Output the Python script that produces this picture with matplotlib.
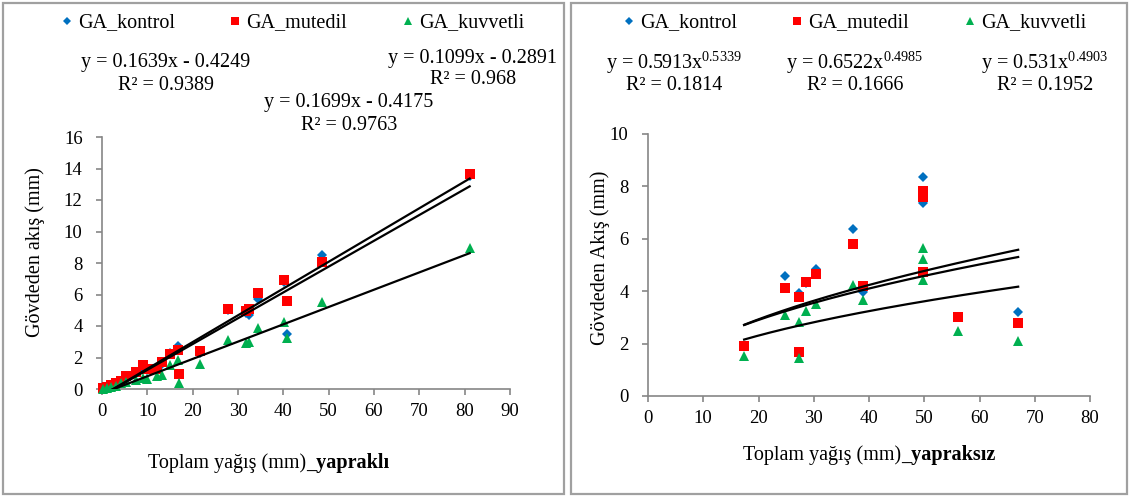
import numpy as np
import matplotlib
matplotlib.use('Agg')
import matplotlib.pyplot as plt
from matplotlib.patches import Rectangle
from matplotlib.lines import Line2D
from matplotlib.text import Annotation

plt.rcParams['font.family'] = 'Liberation Serif'
plt.rcParams['mathtext.default'] = 'regular'

# Yapraklı dönem: toplam yağış (mm) ve gövdeden akış (mm)
yagis_yaprakli = [0.3, 1.2, 2.0, 3.0, 4.2, 5.2, 7.4, 9.0, 10.0, 12.2, 13.3, 15.0,
                  16.8, 17.0, 21.6, 27.9, 31.8, 32.4, 34.5, 40.2, 40.9, 48.6, 81.1]
kontrol_yaprakli = [0.05, 0.1, 0.2, 0.3, 0.45, 0.7, 1.0, 1.3, 1.2, 1.2, 1.6, 2.3,
                    2.75, 0.9, 2.3, 5.0, 4.85, 4.7, 5.7, 6.8, 3.5, 8.5, 13.5]
mutedil_yaprakli = [0.05, 0.15, 0.25, 0.35, 0.5, 0.8, 1.1, 1.5, 1.3, 1.25, 1.7, 2.25,
                    2.5, 0.95, 2.4, 5.1, 4.95, 5.05, 6.1, 6.95, 5.6, 8.05, 13.65]
kuvvetli_yaprakli = [0.0, 0.05, 0.1, 0.2, 0.35, 0.45, 0.6, 0.7, 0.65, 0.8, 0.9, 1.5,
                     1.85, 0.4, 1.6, 3.1, 2.95, 3.0, 3.9, 4.25, 3.25, 5.55, 8.95]

# Yapraksız dönem
yagis_yapraksiz = [17.4, 24.8, 27.4, 27.4, 28.6, 30.4, 37.1, 38.9, 49.7, 49.85, 49.7, 56.1, 67.0]
kontrol_yapraksiz = [1.9, 4.59, 3.95, 1.65, 4.3, 4.86, 6.36, 3.97, 8.37, 7.38, 4.7, 3.0, 3.22]
mutedil_yapraksiz = [1.89, 4.11, 3.77, 1.67, 4.34, 4.66, 5.8, 4.18, 7.82, 7.58, 4.75, 3.0, 2.79]
kuvvetli_yapraksiz = [1.53, 3.1, 2.84, 1.44, 3.25, 3.5, 4.25, 3.66, 5.65, 5.22, 4.43, 2.48, 2.11]

# trend denklemleri (Excel eğilim çizgisi katsayıları)
lineer_katsayi = {'kontrol': (0.1639, -0.4249, 0.9389),
                  'mutedil': (0.1699, -0.4175, 0.9763),
                  'kuvvetli': (0.1099, -0.2891, 0.968)}
us_katsayi = {'kontrol': (0.5913, 0.5339, 0.1814),
              'mutedil': (0.6522, 0.4985, 0.1666),
              'kuvvetli': (0.531, 0.4903, 0.1952)}

seriler = ['kontrol', 'mutedil', 'kuvvetli']
etiketler = ['GA_kontrol', 'GA_mutedil', 'GA_kuvvetli']
renkler = {'kontrol': '#0070C0', 'mutedil': '#FF0000', 'kuvvetli': '#00B050'}
isaretler = {'kontrol': ('D', 5.2), 'mutedil': ('s', 6.8), 'kuvvetli': ('^', 7.6)}

W, H = 1129, 496
GRI = '#868686'
BUYUK = 14.5
KUCUK = 13.5

fig = plt.figure(figsize=(W / 100, H / 100), dpi=100)


def kutu(x0, y0, x1, y1):
    # piksel kutusu (sol üst orijinli) -> figür oranı
    return [x0 / W, 1 - y1 / H, (x1 - x0) / W, (y1 - y0) / H]


def fx(px):
    return px / W


def fy(py):
    return 1 - py / H


# panel çerçeveleri
for x0, x1 in [(3, 564), (571, 1127)]:
    fig.patches.append(Rectangle((fx(x0), fy(494)), (x1 - x0) / W, (494 - 3) / H,
                                 transform=fig.transFigure, fill=False,
                                 edgecolor='#a0a0a0', linewidth=1.6))


def eksen_stili(ax, xmax, ymax, xstep, ystep):
    ax.set_xlim(0, xmax)
    ax.set_ylim(0, ymax)
    ax.set_xticks(np.arange(0, xmax + 1, xstep))
    ax.set_yticks(np.arange(0, ymax + 1, ystep))
    for s in ['top', 'right']:
        ax.spines[s].set_visible(False)
    for s in ['left', 'bottom']:
        ax.spines[s].set_color(GRI)
        ax.spines[s].set_linewidth(1.2)
    ax.tick_params(axis='both', direction='out', length=4, width=1.2, color=GRI,
                   labelsize=KUCUK)
    ax.tick_params(axis='y', pad=10)
    ax.tick_params(axis='x', pad=6)


def noktalar(ax, x, degerler):
    for ad, y in zip(seriler, degerler):
        m, ms = isaretler[ad]
        ax.plot(x, y, linestyle='none', marker=m, markersize=ms, color=renkler[ad],
                markeredgewidth=0, clip_on=False, zorder=3)


def lejant(ax, cx):
    el = []
    kucuk = {'D': 3.8, 's': 5.2, '^': 5.8}
    for ad, et in zip(seriler, etiketler):
        m, _ = isaretler[ad]
        el.append(Line2D([], [], linestyle='none', marker=m, markersize=kucuk[m],
                         color=renkler[ad], markeredgewidth=0, label=et))
    ax.legend(handles=el, loc='center', bbox_to_anchor=(fx(cx), fy(23)),
              bbox_transform=fig.transFigure, ncol=3, frameon=False, fontsize=BUYUK,
              handlelength=0.5, handletextpad=0.3, columnspacing=2.75)


# ---- sol panel: yapraklı ----
ax1 = fig.add_axes(kutu(102, 137, 510, 389))
eksen_stili(ax1, 90, 16, 10, 2)
noktalar(ax1, yagis_yaprakli, [kontrol_yaprakli, mutedil_yaprakli, kuvvetli_yaprakli])
xs = np.linspace(min(yagis_yaprakli), max(yagis_yaprakli), 200)
for ad in seriler:
    a, b, _ = lineer_katsayi[ad]
    ax1.plot(xs, a * xs + b, color='black', linewidth=1.6, zorder=4)
lejant(ax1, 293)

denklem_yeri = {'kontrol': (166, 63), 'mutedil': (349, 103), 'kuvvetli': (473, 58)}
for ad in seriler:
    a, b, r2 = lineer_katsayi[ad]
    cx, cy = denklem_yeri[ad]
    fig.text(fx(cx), fy(cy), f'y = {a}x - {abs(b)}', ha='center', va='center', fontsize=BUYUK)
    fig.text(fx(cx), fy(cy + 22), f'R² = {r2}', ha='center', va='center', fontsize=BUYUK)

fig.text(fx(35), fy(252), 'Gövdeden akış (mm)', rotation=90, ha='center', va='center',
         fontsize=BUYUK)

# ---- sağ panel: yapraksız ----
ax2 = fig.add_axes(kutu(648, 134, 1090, 396))
eksen_stili(ax2, 80, 10, 10, 2)
noktalar(ax2, yagis_yapraksiz, [kontrol_yapraksiz, mutedil_yapraksiz, kuvvetli_yapraksiz])
xs = np.linspace(min(yagis_yapraksiz), max(yagis_yapraksiz), 200)
for ad in seriler:
    a, b, _ = us_katsayi[ad]
    ax2.plot(xs, a * xs ** b, color='black', linewidth=1.6, zorder=4)
lejant(ax2, 855)

denklem_yeri = {'kontrol': (674, 63), 'mutedil': (855, 63), 'kuvvetli': (1045, 63)}
for ad in seriler:
    a, b, r2 = us_katsayi[ad]
    cx, cy = denklem_yeri[ad]
    fig.text(fx(cx), fy(cy), f'y = {a}x$^{{{b}}}$', ha='center', va='center', fontsize=BUYUK)
    fig.text(fx(cx), fy(cy + 22), f'R² = {r2}', ha='center', va='center', fontsize=BUYUK)

fig.text(fx(600), fy(258), 'Gövdeden Akış (mm)', rotation=90, ha='center', va='center',
         fontsize=BUYUK)

# x eksen başlıkları: "_yapraklı" / "_yapraksız" kalın
for x_bas, y, kalin in [(148, 463, '_yapraklı'), (743, 455, '_yapraksız')]:
    t = fig.text(fx(x_bas), fy(y), 'Toplam yağış (mm)', ha='left', va='center',
                 fontsize=BUYUK)
    fig.add_artist(Annotation(kalin, xy=(1, 0), xycoords=t, ha='left', va='bottom',
                              fontsize=BUYUK, fontweight='bold'))

fig.savefig('out.png', dpi=100)
